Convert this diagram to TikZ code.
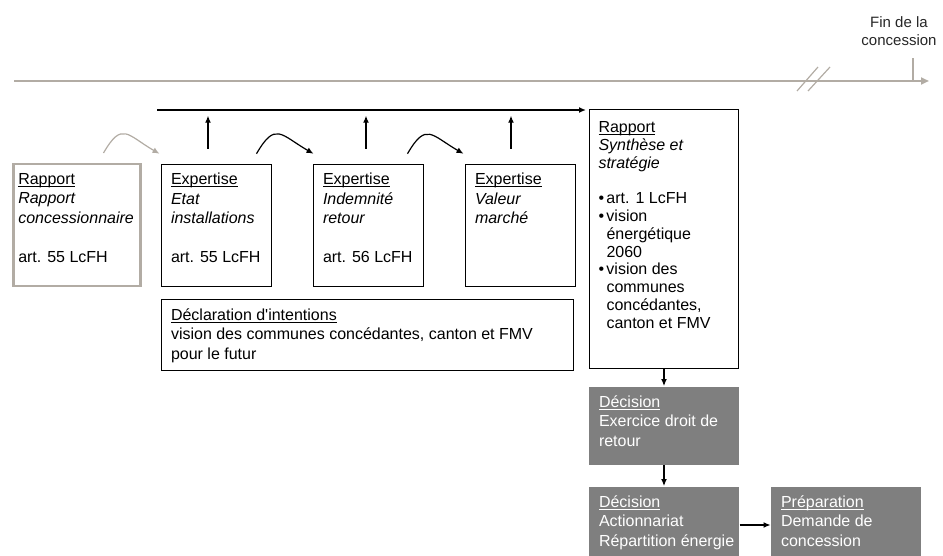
\documentclass[tikz,border=0pt]{standalone}
\usepackage{fontspec}
\setmainfont{Liberation Sans}
\usetikzlibrary{arrows.meta,positioning}
\definecolor{taupe}{RGB}{178,172,164}
\definecolor{boxgray}{RGB}{127,127,127}

\newcommand{\utitle}[1]{\leavevmode\setbox0\hbox{#1}\rlap{\rule[-2.6pt]{\wd0}{1.1pt}}\box0}
\newcommand{\cardbody}[3]{\parbox[c][#2][t]{#1}{#3}}
\newcommand{\bulletmark}{\makebox[8pt][l]{\textbullet}}
\newcommand{\hangin}{\hspace*{8pt}}

\begin{document}
\begin{tikzpicture}[x=1pt, y=1pt, >={Latex[length=7pt,width=6pt]},
    card/.style={draw=black, line width=1pt, inner xsep=10pt, inner ysep=9pt, font=\fontsize{16}{19.5}\selectfont},
    oldcard/.style={card, draw=taupe, line width=2.5pt, inner xsep=5pt},
    darkcard/.style={card, draw=none, fill=boxgray, text=white},
    link/.style={->, line width=1.2pt},
    hop/.style={->, line width=1.2pt, out=60, in=150, looseness=1.7}]
    \useasboundingbox (0,0) rectangle (943,-556);

    % Timeline
    \coordinate (tstart) at (14,-81);
    \coordinate (tend) at (929,-81);
    \coordinate (tmark) at (913,-81);
    \draw[line width=2.5pt, taupe, -{Triangle[length=8pt,width=7pt]}] (tstart) -- (tend);
    \draw[line width=1.5pt, taupe] (tmark) -- ++(0,23);
    \draw[line width=1.2pt, taupe] (797,-91) -- (818,-67) (808,-91) -- (830,-67);
    \node[font=\fontsize{15}{18}\selectfont, align=center, text=black!85] (fin) at (899,-31) {Fin de la\\concession};

    % Report and expertises
    \node[oldcard, anchor=north west] (rapp) at (12,-163) {\cardbody{117pt}{104pt}{\utitle{Rapport}\\\textit{Rapport}\\\textit{concessionnaire}\\[19.5pt]art. 55 LcFH}};
    \node[card, right=19pt of rapp] (exp1) {\cardbody{90pt}{104pt}{\utitle{Expertise}\\\textit{Etat}\\\textit{installations}\\[19.5pt]art. 55 LcFH}};
    \node[card, right=41pt of exp1] (exp2) {\cardbody{90pt}{104pt}{\utitle{Expertise}\\\textit{Indemnité}\\\textit{retour}\\[19.5pt]art. 56 LcFH}};
    \node[card, right=41pt of exp2] (exp3) {\cardbody{90pt}{104pt}{\utitle{Expertise}\\\textit{Valeur}\\\textit{marché}}};
    \node[card, below=12pt of exp1.south west, anchor=north west] (decl) {\cardbody{392pt}{53pt}{\utitle{Déclaration d\textquotesingle intentions}\\vision des communes concédantes, canton et FMV\\pour le futur}};

    % Synthesis and decisions
    \node[card, anchor=north west, inner xsep=9pt, inner ysep=12pt, font=\fontsize{16}{17.8}\selectfont] (synth) at (589,-109) {\cardbody{131pt}{235pt}{\utitle{Rapport}\\\textit{Synthèse et}\\\textit{stratégie}\\[17.8pt]\bulletmark art. 1 LcFH\\\bulletmark vision\\\hangin énergétique\\\hangin 2060\\\bulletmark vision des\\\hangin communes\\\hangin concédantes,\\\hangin canton et FMV}};
    \node[darkcard, below=17pt of synth] (dec1) {\cardbody{130pt}{60pt}{\utitle{Décision}\\Exercice droit de\\retour}};
    \node[darkcard, below=21pt of dec1] (dec2) {\cardbody{130pt}{53pt}{\utitle{Décision}\\Actionnariat\\\mbox{Répartition énergie}}};
    \node[darkcard, right=31pt of dec2] (prep) {\cardbody{130pt}{53pt}{\utitle{Préparation}\\Demande de\\concession}};

    % Arrows
    \coordinate (flowstart) at (157,-110);
    \draw[->, line width=2pt] (flowstart) -- ([xshift=-3pt,yshift=-1pt]synth.north west);
    \draw[link] ([xshift=-8pt,yshift=15pt]exp1.north) -- ++(0,33);
    \draw[link] ([xshift=-2pt,yshift=15pt]exp2.north) -- ++(0,33);
    \draw[link] ([xshift=-9pt,yshift=15pt]exp3.north) -- ++(0,33);
    \draw[hop, taupe] ([xshift=-38pt,yshift=10pt]rapp.north east) to ([xshift=-1pt,yshift=10pt]exp1.north west);
    \draw[hop] ([xshift=-15pt,yshift=10pt]exp1.north east) to ([xshift=1pt,yshift=10pt]exp2.north west);
    \draw[hop] ([xshift=-16pt,yshift=10pt]exp2.north east) to ([xshift=-1pt,yshift=10pt]exp3.north west);
    \draw[link] (synth) -- (dec1);
    \draw[link] (dec1) -- (dec2);
    \draw[link] ([yshift=-3pt]dec2.east) -- ([yshift=-3pt]prep.west);
\end{tikzpicture}
\end{document}
